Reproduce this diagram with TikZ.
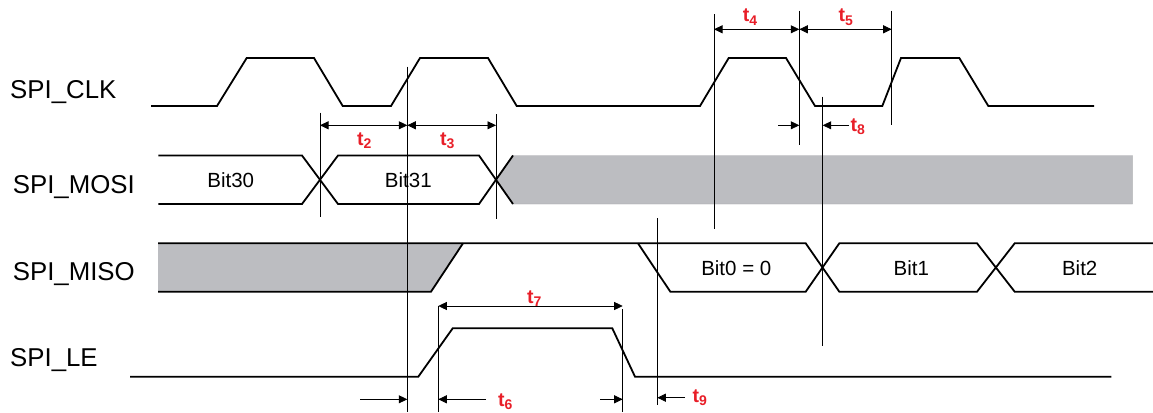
\documentclass[tikz,border=0pt]{standalone}
\usepackage{fontspec}
\setmainfont{Liberation Sans}
\usetikzlibrary{arrows.meta}
\definecolor{wavegray}{RGB}{188,189,193}
\definecolor{tred}{RGB}{232,30,40}
\newcommand{\tlab}[1]{{\fontsize{19.5}{19.5}\selectfont t}\raisebox{-3.3pt}{\fontsize{14}{14}\selectfont #1}}
\begin{document}
\begin{tikzpicture}[x=1pt,y=-1pt,
  sig/.style={line width=1.8pt, line join=miter},
  vline/.style={line width=0.9pt},
  dimarrow/.style={line width=0.8pt, {Triangle[length=8.5pt,width=8pt]}-{Triangle[length=8.5pt,width=8pt]}},
  onearrow/.style={line width=0.8pt, -{Triangle[length=8.5pt,width=8pt]}},
  siglbl/.style={font=\fontsize{25.8}{26}\selectfont, inner sep=0pt, anchor=base west},
  bitlbl/.style={font=\fontsize{20.5}{21}\selectfont, inner sep=0pt},
  tlbl/.style={text=tred, font=\bfseries, inner sep=0pt, anchor=base west}]
\useasboundingbox (0,0) rectangle (1153,412);

% ---------- signal names ----------
\node[siglbl] (nclk)  at (10,98.3)  {SPI\_CLK};
\node[siglbl] (nmosi) at (12.7,193.3) {SPI\_MOSI};
\node[siglbl] (nmiso) at (12.7,280) {SPI\_MISO};
\node[siglbl] (nle)   at (10,366)   {SPI\_LE};

% ---------- SPI_CLK ----------
\draw[sig] (151,106) -- (217,106) -- (246.7,58) -- (314,58) -- (342.7,106)
  -- (391,106) -- (420,58) -- (488,58) -- (516.7,106)
  -- (700,106) -- (728.7,58) -- (786,58) -- (815,106)
  -- (882.3,106) -- (901,58) -- (959.3,58) -- (988.3,106) -- (1094,106);

% ---------- SPI_MOSI ----------
\fill[wavegray, draw=wavegray!85!black, line width=0.4pt]
  (496,179.75) -- (513,155.5) -- (1132.5,155.5) -- (1132.5,204) -- (513,204) -- cycle;
\draw[sig] (158.3,155.5) -- (302,155.5) -- (338,204) -- (479,204) -- (513,155.5);
\draw[sig] (158.3,204) -- (302,204) -- (338,155.5) -- (479,155.5) -- (513,204);
\node[bitlbl] (b30) at (230.7,180) {Bit30};
\node[bitlbl] (b31) at (408.3,180) {Bit31};

% ---------- SPI_MISO ----------
\fill[wavegray] (158,243.3) -- (463,243.3) -- (431,291.7) -- (158,291.7) -- cycle;
\draw[sig] (158,291.7) -- (431,291.7) -- (463,243.3);
\draw[sig] (158,243.3) -- (805.7,243.3) -- (839.3,291.7) -- (977,291.7) -- (1014.7,243.3) -- (1153,243.3);
\draw[sig] (638,243.3) -- (670.3,291.7) -- (805.7,291.7) -- (839.3,243.3) -- (977,243.3) -- (1014.7,291.7) -- (1153,291.7);
\node[bitlbl] (b0) at (736.3,268.3) {Bit0 = 0};
\node[bitlbl] (b1) at (911.3,268.3) {Bit1};
\node[bitlbl] (b2) at (1079.7,268.3) {Bit2};

% ---------- SPI_LE ----------
\draw[sig] (130,376.7) -- (418.3,376.7) -- (452.7,328.3) -- (612.3,328.3) -- (635,376.7) -- (1111.3,376.7);

% ---------- vertical reference lines ----------
\coordinate (v1t) at (320,112.7);   \coordinate (v1b) at (320,217.3);
\coordinate (v2t) at (407.3,66.7);  \coordinate (v2b) at (407.3,412);
\coordinate (v3t) at (496,114);     \coordinate (v3b) at (496,219.3);
\coordinate (v4t) at (714,14.3);    \coordinate (v4b) at (714,229.3);
\coordinate (v5t) at (799.3,10.7);  \coordinate (v5b) at (799.3,145);
\coordinate (v6t) at (891.7,10.7);  \coordinate (v6b) at (891.7,125.3);
\coordinate (v7t) at (822.7,96.7);  \coordinate (v7b) at (822.7,346);
\coordinate (v8t) at (657.3,218);   \coordinate (v8b) at (657.3,405);
\coordinate (v9t) at (438.3,306);   \coordinate (v9b) at (438.3,412);
\coordinate (v10t) at (622.7,309);  \coordinate (v10b) at (622.7,412);
\foreach \v in {1,...,10} \draw[vline] (v\v t) -- (v\v b);

% ---------- timing arrows ----------
\coordinate (a2l) at (320,125.3);   \coordinate (a2m) at (407.3,125.3); \coordinate (a2r) at (496,125.3);
\draw[dimarrow] (a2l) -- (a2m);
\draw[dimarrow] (a2m) -- (a2r);
\coordinate (a4l) at (714,29.3); \coordinate (a4m) at (799.3,29.3); \coordinate (a4r) at (891.7,29.3);
\draw[dimarrow] (a4l) -- (a4m);
\draw[dimarrow] (a4m) -- (a4r);
\coordinate (a8s1) at (778,125.3);  \coordinate (a8e1) at (799.3,125.3);
\coordinate (a8s2) at (849,125.3);  \coordinate (a8e2) at (822.7,125.3);
\draw[onearrow] (a8s1) -- (a8e1);
\draw[onearrow] (a8s2) -- (a8e2);
\coordinate (a7l) at (438.3,306); \coordinate (a7r) at (622.7,306);
\draw[dimarrow] (a7l) -- (a7r);
\coordinate (a6s) at (486,399.3);  \coordinate (a6e) at (438.3,399.3);
\draw[onearrow] (a6s) -- (a6e);
\coordinate (a6s2) at (600,399.3); \coordinate (a6e2) at (622.7,399.3);
\draw[onearrow] (a6s2) -- (a6e2);
\coordinate (a0s) at (360,399.3);  \coordinate (a0e) at (407.3,399.3);
\draw[onearrow] (a0s) -- (a0e);
\coordinate (a9s) at (685,397.7);  \coordinate (a9e) at (657.3,397.7);
\draw[onearrow] (a9s) -- (a9e);

% ---------- red labels ----------
\node[tlbl] (t2) at (357,145)   {\tlab{2}};
\node[tlbl] (t3) at (440,145)   {\tlab{3}};
\node[tlbl] (t4) at (742.7,22)  {\tlab{4}};
\node[tlbl] (t5) at (838.5,22)  {\tlab{5}};
\node[tlbl] (t8) at (850.5,131) {\tlab{8}};
\node[tlbl] (t7) at (527,303)   {\tlab{7}};
\node[tlbl] (t6) at (498,406)   {\tlab{6}};
\node[tlbl] (t9) at (692.5,402) {\tlab{9}};
\end{tikzpicture}
\end{document}
